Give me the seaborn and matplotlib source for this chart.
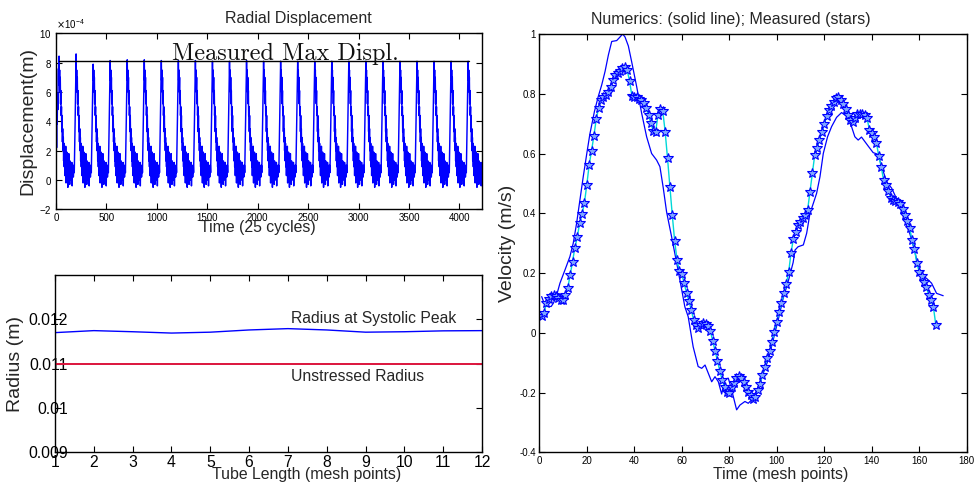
import numpy as np
import matplotlib
matplotlib.use("Agg")
import matplotlib.pyplot as plt
import seaborn as sns
from matplotlib import font_manager
from matplotlib.ticker import ScalarFormatter, FuncFormatter

# ---------------- data ----------------
# Radial displacement (units of 1e-4 m): one cycle template (starts at the peak)
disp_template = [8.1, 6.8, 7.5, 6.0, 7.0, 5.2, 6.1, 4.4, 5.0, 3.3,
                 4.4, 2.6, 3.5, 2.0, 2.9, 1.3, 2.5, 0.9, 2.2, 0.3,
                 1.8, 0.9, 2.3, -0.2, 1.4, 0.6, 1.9, 0.2, 1.1, -0.5,
                 1.5, 0.4, 1.8, 0.1, 1.0, -0.3, 1.3, 0.5, 1.1, 0.0,
                 0.9, 0.3, 1.2, -0.4, 0.8, 0.4, 1.0, 0.2, 0.6, 1.0,
                 0.5, 1.6, 2.8, 4.2, 5.5, 7.0]
disp_lead_in = [3.0, 4.3, 2.2, 4.6, 3.8, 5.9, 4.8, 6.9, 7.6, 6.5]
cycle_peaks = [8.45, 8.6, 7.9, 8.15, 8.2, 8.2, 8.15, 8.15, 8.15, 8.1,
               8.1, 8.15, 8.1, 8.1, 8.1, 8.1, 8.1, 8.1, 8.1, 8.1,
               8.1, 8.1, 8.1, 8.1, 8.1]
cycle_length = 169.0
time_end = 4222
max_displ = 8.1
max_displ_span = [30, 4095]

tube_points = list(range(1, 13))
radius_systolic = [0.01170, 0.011745, 0.01172, 0.01169, 0.01171, 0.01176,
                   0.01179, 0.01176, 0.01171, 0.01172, 0.01174, 0.011745]
radius_unstressed = [0.010995] * 12

meas_time = list(range(1, 168))
meas_vel = [0.055, 0.066, 0.100, 0.113, 0.124, 0.126, 0.122, 0.115, 0.108, 0.110,
            0.128, 0.151, 0.193, 0.238, 0.285, 0.320, 0.368, 0.397, 0.435, 0.495,
            0.562, 0.609, 0.660, 0.716, 0.753, 0.779, 0.788, 0.796, 0.807, 0.822,
            0.846, 0.863, 0.870, 0.877, 0.885, 0.889, 0.880, 0.843, 0.793, 0.788,
            0.788, 0.784, 0.779, 0.768, 0.751, 0.729, 0.701, 0.675, 0.673, 0.729,
            0.749, 0.742, 0.673, 0.584, 0.489, 0.394, 0.308, 0.244, 0.208, 0.196,
            0.166, 0.134, 0.107, 0.076, 0.043, 0.027, 0.015, 0.025, 0.034, 0.031,
            0.022, 0.007, -0.026, -0.060, -0.093, -0.127, -0.158, -0.180, -0.197, -0.200,
            -0.180, -0.169, -0.152, -0.145, -0.152, -0.164, -0.180, -0.197, -0.208, -0.223,
            -0.214, -0.191, -0.172, -0.141, -0.113, -0.085, -0.060, -0.030, 0.004, 0.037,
            0.071, 0.099, 0.132, 0.163, 0.202, 0.266, 0.315, 0.338, 0.361, 0.372,
            0.383, 0.394, 0.411, 0.472, 0.534, 0.595, 0.620, 0.645, 0.672, 0.700,
            0.725, 0.745, 0.760, 0.772, 0.785, 0.790, 0.780, 0.765, 0.750, 0.730,
            0.712, 0.705, 0.718, 0.732, 0.732, 0.732, 0.730, 0.720, 0.680, 0.668,
            0.655, 0.635, 0.590, 0.556, 0.510, 0.495, 0.475, 0.452, 0.445, 0.440,
            0.437, 0.430, 0.415, 0.395, 0.375, 0.350, 0.310, 0.280, 0.232, 0.205,
            0.190, 0.170, 0.154, 0.125, 0.108, 0.085, 0.026]

num_time = [1, 2, 3.2, 5, 6, 7.3, 8.7, 10.8, 12.9, 14.3, 15.7, 17.1, 18.5, 20, 21.3,
            23.2, 24.8, 26.3, 27.7, 29.1, 30.5, 32.6, 34.0, 35.1, 36.1, 37.5, 38.9, 41,
            43.1, 45.2, 47.3, 49.4, 50.8, 52.2, 53.6, 55.7, 57.9, 60, 61.3, 62.7, 64.8,
            66.9, 68.4, 69.8, 71.2, 72.6, 74, 75.4, 76.8, 78.2, 79.6, 81, 83.1, 84.5,
            86.6, 88, 90.1, 92.2, 94.3, 96.4, 98.5, 100.6, 102.7, 104.8, 106.9, 107.7,
            109, 111.2, 112.6, 114, 115.4, 116.8, 118.2, 119.6, 121.4, 123.1, 125.2,
            127.3, 129.4, 131.5, 132.9, 134.3, 135.7, 138.5, 140.6, 142.7, 144.2,
            146.3, 148.4, 149.8, 151.9, 154, 156.1, 158.2, 159.5, 161, 163.1, 165.2,
            167.3, 170.1]
num_vel = [0.121, 0.10, 0.088, 0.088, 0.10, 0.126, 0.166, 0.21, 0.255, 0.30, 0.366,
           0.444, 0.522, 0.60, 0.665, 0.74, 0.79, 0.83, 0.875, 0.93, 0.975, 0.978,
           0.99, 1.0, 0.99, 0.96, 0.907, 0.824, 0.735, 0.656, 0.60, 0.578, 0.556,
           0.485, 0.405, 0.322, 0.232, 0.143, 0.087, 0.054, -0.047, -0.113, -0.119,
           -0.108, -0.136, -0.164, -0.147, -0.164, -0.205, -0.155, -0.152, -0.191,
           -0.258, -0.242, -0.23, -0.236, -0.219, -0.18, -0.136, -0.091, -0.024,
           0.043, 0.115, 0.171, 0.235, 0.277, 0.288, 0.294, 0.333, 0.40, 0.433,
           0.467, 0.522, 0.60, 0.656, 0.69, 0.721, 0.737, 0.725, 0.69, 0.656, 0.645,
           0.655, 0.625, 0.603, 0.597, 0.556, 0.505, 0.484, 0.46, 0.422, 0.375, 0.33,
           0.27, 0.225, 0.193, 0.182, 0.166, 0.132, 0.124]

# ---------------- style ----------------
sns.set_theme(style="ticks")
avail = {f.name for f in font_manager.fontManager.ttflist}
if "Liberation Sans Narrow" in avail:
    HFONT = "Liberation Sans Narrow"
    s_title, s_lab, s_big, s_small = 14, 13.8, 13.6, 8.6
else:
    HFONT = "Liberation Sans"
    s_title, s_lab, s_big, s_small = 11.5, 11.4, 11.3, 7.0
VFONT = "Liberation Sans"
plt.rcParams["font.family"] = [HFONT, "DejaVu Sans"]
plt.rcParams["axes.unicode_minus"] = False
plt.rcParams["axes.linewidth"] = 1.0

fig = plt.figure(figsize=(9.74, 4.87), dpi=100)
ax1 = fig.add_axes([0.0575, 0.5702, 0.4372, 0.3612])
ax2 = fig.add_axes([0.0565, 0.0713, 0.4384, 0.3640])
ax3 = fig.add_axes([0.5537, 0.0713, 0.4388, 0.8589])

for ax in (ax1, ax2, ax3):
    ax.set_facecolor("white")
    for sp in ax.spines.values():
        sp.set_visible(True)
        sp.set_color("black")
        sp.set_linewidth(1.0)
    ax.tick_params(direction="in", top=True, right=True, length=4, width=0.8,
                   colors="black")

g = FuncFormatter(lambda v, p: "%g" % v)

# ---------- top-left: radial displacement ----------
sig = list(disp_lead_in)
for pk in cycle_peaks:
    cyc = list(disp_template)
    cyc[0] = pk
    sig += cyc
sig = np.array(sig) * 1e-4
t = np.arange(len(sig)) * (cycle_length / len(disp_template))
keep = t <= time_end
sns.lineplot(x=t[keep], y=sig[keep], ax=ax1, color="#0000ff", lw=1.05,
             estimator=None, sort=False)
ax1.plot(max_displ_span, [max_displ * 1e-4] * 2, color="black", lw=1.0)
ax1.text(1146, 8.2e-4, "Measured Max Displ.", family="cmr10", fontsize=17.5,
         va="baseline", ha="left", color="#111111")
ax1.set_xlim(0, time_end)
ax1.set_ylim(-2e-4, 10e-4)
ax1.set_xticks(np.arange(0, 4001, 500))
ax1.set_yticks(np.arange(-2e-4, 10.01e-4, 2e-4))
fmt = ScalarFormatter(useMathText=True)
fmt.set_powerlimits((-4, -4))
ax1.yaxis.set_major_formatter(fmt)
ax1.yaxis.get_offset_text().set_fontsize(7)
ax1.xaxis.set_major_formatter(g)
ax1.tick_params(labelsize=s_small, pad=3)
ax1.set_title("Radial Displacement", fontsize=s_title, x=0.57, y=1.057, pad=0)
ax1.set_xlabel("Time (25 cycles)", fontsize=s_lab)
ax1.xaxis.set_label_coords(0.475, -0.058)
ax1.set_ylabel("Displacement(m)", fontsize=14, family=VFONT)
ax1.yaxis.set_label_coords(-0.045, 0.5)

# ---------- bottom-left: radius ----------
sns.lineplot(x=tube_points, y=radius_systolic, ax=ax2, color="#0000ff", lw=1.0)
sns.lineplot(x=tube_points, y=radius_unstressed, ax=ax2, color="#dc143c", lw=1.4)
ax2.text(7.07, 0.011926, "Radius at Systolic Peak", fontsize=s_big, va="baseline")
ax2.text(7.07, 0.010616, "Unstressed Radius", fontsize=s_big, va="baseline")
ax2.set_xlim(1, 12)
ax2.set_ylim(0.009, 0.013)
ax2.set_xticks(tube_points)
ax2.set_xticklabels([str(i) for i in tube_points])
ax2.set_yticks([0.009, 0.010, 0.011, 0.012])
ax2.set_yticklabels(["0.009", "0.01", "0.011", "0.012"])
ax2.tick_params(labelsize=s_big)
ax2.tick_params(axis="y", pad=-9.5)
ax2.tick_params(axis="x", pad=2)
ax2.set_xlabel("Tube Length (mesh points)", fontsize=s_lab)
ax2.xaxis.set_label_coords(0.589, -0.082)
ax2.set_ylabel("Radius (m)", fontsize=14, family=VFONT)
ax2.yaxis.set_label_coords(-0.0726, 0.5)

# ---------- right: velocity ----------
sns.lineplot(x=num_time, y=num_vel, ax=ax3, color="#0000ff", lw=0.9,
             estimator=None, sort=False)
sns.lineplot(x=meas_time, y=meas_vel, ax=ax3, color="#00d8d8", lw=1.0,
             marker="*", markersize=7, markeredgecolor="#0000ff",
             markerfacecolor="#7fa8ff", markeredgewidth=0.8,
             estimator=None, sort=False)
ax3.set_xlim(0, 180)
ax3.set_ylim(-0.4, 1.0)
ax3.set_xticks(np.arange(0, 181, 20))
ax3.set_yticks(np.arange(-0.4, 1.01, 0.2))
ax3.xaxis.set_major_formatter(g)
ax3.yaxis.set_major_formatter(FuncFormatter(lambda v, p: "%g" % round(v, 2)))
ax3.tick_params(labelsize=s_small, pad=2.5)
ax3.set_title("Numerics: (solid line); Measured (stars)", fontsize=s_title,
              x=0.447, y=1.024, pad=0)
ax3.set_xlabel("Time (mesh points)", fontsize=s_lab)
ax3.xaxis.set_label_coords(0.565, -0.036)
ax3.set_ylabel("Velocity (m/s)", fontsize=14, family=VFONT)
ax3.yaxis.set_label_coords(-0.054, 0.5)

fig.savefig("out.png", dpi=100, facecolor="white")
